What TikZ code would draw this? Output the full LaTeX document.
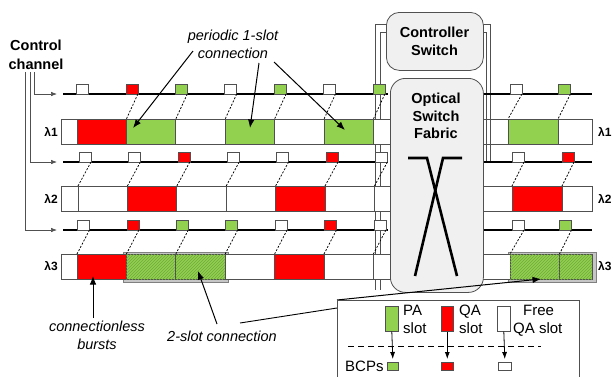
\documentclass[tikz,border=0pt]{standalone}
\usepackage{fontspec}
\setmainfont{Liberation Sans}
\usetikzlibrary{arrows.meta,patterns}
\definecolor{pagreen}{RGB}{146,208,80}
\definecolor{hatchgreen}{RGB}{112,170,62}
\definecolor{qared}{RGB}{255,0,0}
\definecolor{edgegray}{RGB}{80,80,80}
\definecolor{swfill}{RGB}{240,240,240}
\begin{document}
\begin{tikzpicture}[x=1pt,y=-1pt,
  slotbox/.style={draw=edgegray,line width=0.7pt,minimum height=25pt,inner sep=0pt,outer sep=0pt,anchor=north west},
  ctrlsq/.style={draw=edgegray,line width=0.6pt,minimum width=12pt,minimum height=10pt,inner sep=0pt,outer sep=0pt,anchor=south west},
  ctrlline/.style={line width=1.7pt,black},
  dashlink/.style={black,line width=0.75pt,dash pattern=on 2pt off 1.6pt},
  hatched/.style={fill=pagreen,postaction={pattern=north east lines,pattern color=hatchgreen}},
  connframe/.style={draw=gray,fill=gray!45,line width=0.7pt,inner sep=0pt,anchor=north west,minimum height=30.5pt},
  lam/.style={font=\bfseries\fontsize{12}{14}\selectfont,inner sep=0pt},
  annot/.style={font=\itshape\fontsize{14.5}{18}\selectfont,align=center,inner sep=0pt},
  annarrow/.style={line width=1pt,-{Latex[length=8.5pt,width=6.5pt]}},
  wire/.style={line width=0.6pt,edgegray},
  swbox/.style={draw=edgegray,fill=swfill,line width=0.8pt,rounded corners=13pt,inner sep=0pt,anchor=north west},
  swtext/.style={font=\bfseries\fontsize{14.5}{17.5}\selectfont,align=center,inner sep=0pt},
  legtext/.style={font=\fontsize{15}{18}\selectfont,inner sep=0pt,anchor=base west},
  legsq/.style={draw=edgegray,line width=0.6pt,inner sep=0pt,anchor=north west},
  legarrow/.style={line width=0.8pt,-{Latex[length=7pt,width=5pt]}},
]
\useasboundingbox (0,0) rectangle (613,376);
\clip (0,0) rectangle (613,376);

% ---------- control channel label and feeds ----------
\node[font=\bfseries\fontsize{14.5}{19.5}\selectfont,align=center,inner sep=0pt] (ctrltext) at (36,55) {Control\\channel};
\coordinate (c1a) at (63,94);  \coordinate (c1b) at (388,94);
\coordinate (c2a) at (63,162); \coordinate (c2b) at (388,162);
\coordinate (c3a) at (63,230); \coordinate (c3b) at (388,230);
\draw[wire,-{Latex[length=6pt,width=4.5pt]}] ([xshift=-2pt,yshift=-2pt]ctrltext.south) |- ([xshift=-6pt]c1a);
\draw[wire,-{Latex[length=6pt,width=4.5pt]}] ([xshift=-6pt,yshift=-2pt]ctrltext.south) |- ([xshift=-6pt]c2a);
\draw[wire,-{Latex[length=6pt,width=4.5pt]}] ([xshift=-11pt,yshift=-2pt]ctrltext.south) |- ([xshift=-6pt]c3a);

% ---------- wires to the controller ----------
\draw[wire] (386,24) -| (375,290);
\draw[wire] (386,32) -| (380,290);
\draw[wire] (483,24) -| (490,162);
\draw[wire] (483,32) -| (486,162);

% ---------- row lambda 1 (left) ----------
\node[slotbox,fill=white,minimum width=16pt] (r1sL) at (61,119) {};
\foreach \k/\c in {0/qared,1/pagreen,2/white,3/pagreen,4/white,5/pagreen}
  \node[slotbox,fill=\c,minimum width=49.4pt] (r1s\k) at ({77+49.4*\k},119) {};
\node[slotbox,fill=white,minimum width=16.6pt] (r1s6) at (373.4,119) {};
\draw[ctrlline] (c1a) -- (c1b);
\foreach \k/\c in {0/white,1/qared,2/pagreen,3/white,4/pagreen,5/white,6/pagreen}
  \node[ctrlsq,fill=\c] (q1\k) at ({76.5+49.4*\k},94) {};
\foreach \k in {1,...,6}
  \draw[dashlink] (q1\k.south east) -- (r1s\k.north west);
\node[lam,anchor=east] (lamL1) at (58,131.5) {λ1};

% ---------- row lambda 2 (left) ----------
\node[slotbox,fill=white,minimum width=17pt] (r2sL) at (61,186) {};
\foreach \k/\c in {0/white,1/qared,2/white,3/white,4/qared,5/white}
  \node[slotbox,fill=\c,minimum width=49.4pt] (r2s\k) at ({78+49.4*\k},186) {};
\node[slotbox,fill=white,minimum width=15.6pt] (r2s6) at (374.4,186) {};
\draw[ctrlline] (c2a) -- (c2b);
\foreach \k/\c in {0/white,1/white,2/qared,3/white,4/white,5/qared,6/white}
  \node[ctrlsq,fill=\c] (q2\k) at ({79+49.4*\k},162) {};
\foreach \k in {0,...,6}
  \draw[dashlink] (q2\k.south east) -- (r2s\k.north west);
\node[lam,anchor=east] (lamL2) at (58,198.5) {λ2};

% ---------- row lambda 3 (left) ----------
\node[connframe,minimum width=105pt] (conn2) at (123,251.5) {};
\node[slotbox,fill=white,minimum width=16pt] (r3sL) at (61,254) {};
\node[slotbox,fill=qared,minimum width=49.4pt] (r3s0) at (77,254) {};
\node[slotbox,hatched,minimum width=49.4pt] (r3s1) at (126.4,254) {};
\node[slotbox,hatched,minimum width=49.4pt] (r3s2) at (175.8,254) {};
\node[slotbox,fill=white,minimum width=49.4pt] (r3s3) at (225.2,254) {};
\node[slotbox,fill=qared,minimum width=49.4pt] (r3s4) at (274.6,254) {};
\node[slotbox,fill=white,minimum width=49.4pt] (r3s5) at (324,254) {};
\node[slotbox,fill=white,minimum width=16.6pt] (r3s6) at (373.4,254) {};
\draw[ctrlline] (c3a) -- (c3b);
\foreach \k/\c in {0/white,1/qared,2/pagreen,3/pagreen,4/white,5/qared,6/white}
  \node[ctrlsq,fill=\c] (q3\k) at ({77.5+49.4*\k},230) {};
\foreach \k in {0,...,6}
  \draw[dashlink] (q3\k.south east) -- (r3s\k.north west);
\node[lam,anchor=east] (lamL3) at (58,266.5) {λ3};

% ---------- right side rows ----------
\coordinate (d1a) at (482,94);  \coordinate (d1b) at (592,94);
\coordinate (d2a) at (482,162); \coordinate (d2b) at (592,162);
\coordinate (d3a) at (482,230); \coordinate (d3b) at (592,230);

\node[slotbox,fill=white,minimum width=26pt] (R1a) at (482,119) {};
\node[slotbox,fill=pagreen,minimum width=50pt] (R1b) at (508,119) {};
\node[slotbox,fill=white,minimum width=34pt] (R1c) at (558,119) {};
\draw[wire] (486,119) -- (486,144);
\draw[wire] (490,119) -- (490,144);
\draw[ctrlline] (d1a) -- (d1b);
\node[ctrlsq,fill=white] (qR1a) at (510,94) {};
\node[ctrlsq,fill=pagreen] (qR1b) at (558.5,94) {};
\draw[dashlink] (qR1a.south east) -- (R1b.north west);
\draw[dashlink] (qR1b.south east) -- (R1c.north west);
\node[lam,anchor=west] (lamR1) at (598,131.5) {λ1};

\node[slotbox,fill=white,minimum width=30pt] (R2a) at (482,186) {};
\node[slotbox,fill=qared,minimum width=50pt] (R2b) at (512,186) {};
\node[slotbox,fill=white,minimum width=30pt] (R2c) at (562,186) {};
\draw[ctrlline] (d2a) -- (d2b);
\node[ctrlsq,fill=white] (qR2a) at (512,162) {};
\node[ctrlsq,fill=qared] (qR2b) at (562,162) {};
\draw[dashlink] (qR2a.south east) -- (R2b.north west);
\draw[dashlink] (qR2b.south east) -- (R2c.north west);
\node[lam,anchor=west] (lamR2) at (598,198.5) {λ2};

\node[connframe,minimum width=88pt] (connR) at (508,251.5) {};
\node[slotbox,fill=white,minimum width=28pt] (R3a) at (482,254) {};
\node[slotbox,hatched,minimum width=49.5pt] (R3b) at (510,254) {};
\node[slotbox,hatched,minimum width=32.5pt] (R3c) at (559.5,254) {};
\draw[ctrlline] (d3a) -- (d3b);
\node[ctrlsq,fill=white] (qR3a) at (512,230) {};
\node[ctrlsq,fill=pagreen] (qR3b) at (559.5,230) {};
\draw[dashlink] (qR3a.south east) -- (R3b.north west);
\draw[dashlink] (qR3b.south east) -- (R3c.north west);
\node[lam,anchor=west] (lamR3) at (598,266.5) {λ3};

% ---------- switch ----------
\node[swbox,minimum width=97pt,minimum height=58pt] (ctrl) at (386,12) {};
\node[swtext] (ctrltxt) at (434.5,41.5) {Controller\\Switch};
\node[swbox,minimum width=93pt,minimum height=214pt,rounded corners=15pt] (fabric) at (390,78) {};
\node[swtext] (fabtxt) at (436,116) {Optical\\Switch\\Fabric};
\draw[line width=2.6pt] (408,158) -- (427,158) -- (457,276);
\draw[line width=2.6pt] (462,158) -- (443,158) -- (415,276);

% ---------- annotations ----------
\node[annot] (pertext) at (233,44) {periodic 1-slot\\connection};
\coordinate (p1s) at (193,51);  \coordinate (p1e) at (133,128);
\coordinate (p2s) at (259,63);  \coordinate (p2e) at (250,128);
\coordinate (p3s) at (274,62);  \coordinate (p3e) at (345,130);
\draw[annarrow] (p1s) -- (p1e);
\draw[annarrow] (p2s) -- (p2e);
\draw[annarrow] (p3s) -- (p3e);

\node[annot] (cltext) at (97,335) {connectionless\\bursts};
\coordinate (clS) at (93,318); \coordinate (clE) at (93,276);
\draw[annarrow] (clS) -- (clE);

\node[annot] (twotext) at (222,336) {2-slot connection};
\coordinate (t1s) at (217,324); \coordinate (t1e) at (198,271);
\draw[annarrow] (t1s) -- (t1e);
\coordinate (t2s) at (240,323); \coordinate (t2e) at (337,308);
\draw[line width=0.9pt] (t2s) -- (t2e);
\coordinate (zs) at (337,300); \coordinate (ze) at (541,279);
\draw[annarrow] (zs) -- (ze);

% ---------- legend ----------
\node[draw=edgegray,fill=white,line width=0.8pt,inner sep=0pt,anchor=north west,minimum width=242pt,minimum height=90pt] (legend) at (337,300) {};
\node[legsq,fill=pagreen,minimum width=13pt,minimum height=25pt] (lgPA) at (385,306) {};
\node[legsq,fill=qared,minimum width=12pt,minimum height=25pt] (lgQA) at (441,306) {};
\node[legsq,fill=white,minimum width=13pt,minimum height=25pt] (lgFr) at (497,306) {};
\node[legtext] (tPA1) at (403,315) {PA};
\node[legtext] (tPA2) at (403,333) {slot};
\node[legtext] (tQA1) at (459,315) {QA};
\node[legtext] (tQA2) at (459,333) {slot};
\node[legtext] (tFr1) at (523,315) {Free};
\node[legtext] (tFr2) at (513,333) {QA slot};
\coordinate (dl1) at (348,346); \coordinate (dl2) at (541,346);
\draw[line width=0.9pt,dash pattern=on 6pt off 4pt] (dl1) -- (dl2);
\node[legsq,fill=pagreen,minimum width=11pt,minimum height=8pt] (bPA) at (387,362) {};
\node[legsq,fill=qared,minimum width=12pt,minimum height=8pt] (bQA) at (441,362) {};
\node[legsq,fill=white,minimum width=13pt,minimum height=8pt] (bFr) at (498,362) {};
\draw[legarrow] (lgPA.south) -- ([yshift=3pt]bPA.north);
\draw[legarrow] (lgQA.south) -- ([yshift=3pt]bQA.north);
\draw[legarrow] (lgFr.south) -- ([yshift=3pt]bFr.north);
\node[legtext] (tBCP) at (345,371) {BCPs};
\end{tikzpicture}
\end{document}
